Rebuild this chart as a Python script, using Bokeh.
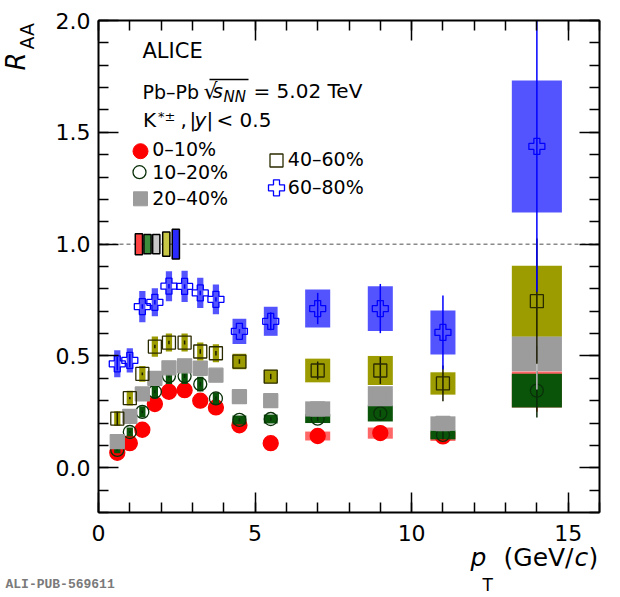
import numpy as np

from bokeh.plotting import figure
from bokeh.models import (ColumnDataSource, LinearAxis, Range1d, SingleIntervalTicker,
                          Label, NumeralTickFormatter, CustomJSTickFormatter)
from bokeh.embed import file_html
from bokeh.resources import INLINE

# K*(892)+- RAA vs pT, Pb-Pb 5.02 TeV
pt = [0.6, 1.0, 1.4, 1.8, 2.25, 2.75, 3.25, 3.75, 4.5, 5.5, 7.0, 9.0, 11.0, 14.0]
bin_halfwidth = [0.1, 0.1, 0.1, 0.1, 0.1, 0.1, 0.1, 0.1, 0.22, 0.22, 0.4, 0.4, 0.4, 0.8]

raa_0_10 = [0.067, 0.11, 0.17, 0.285, 0.34, 0.347, 0.30, 0.27, 0.19, 0.11, 0.142, 0.155, 0.14, 0.35]
stat_0_10 = [0.003, 0.004, 0.005, 0.006, 0.007, 0.008, 0.008, 0.008, 0.006, 0.005, 0.006, 0.008, 0.012, 0.10]
sys_0_10 = [0.01, 0.012, 0.015, 0.02, 0.022, 0.022, 0.02, 0.018, 0.014, 0.01, 0.02, 0.025, 0.02, 0.08]

raa_10_20 = [0.08, 0.16, 0.25, 0.34, 0.41, 0.41, 0.374, 0.31, 0.214, 0.218, 0.22, 0.243, 0.147, 0.345]
stat_10_20 = [0.004, 0.005, 0.006, 0.007, 0.008, 0.009, 0.009, 0.009, 0.007, 0.007, 0.01, 0.015, 0.02, 0.12]
sys_10_20 = [0.015, 0.02, 0.025, 0.03, 0.035, 0.035, 0.033, 0.028, 0.02, 0.02, 0.02, 0.036, 0.02, 0.075]

raa_20_40 = [0.117, 0.23, 0.33, 0.40, 0.447, 0.456, 0.445, 0.414, 0.318, 0.30, 0.263, 0.32, 0.198, 0.51]
stat_20_40 = [0.004, 0.005, 0.006, 0.007, 0.008, 0.009, 0.009, 0.009, 0.008, 0.008, 0.01, 0.015, 0.025, 0.16]
sys_20_40 = [0.01, 0.015, 0.02, 0.025, 0.025, 0.025, 0.025, 0.025, 0.02, 0.02, 0.034, 0.045, 0.032, 0.078]

raa_40_60 = [0.22, 0.311, 0.42, 0.542, 0.56, 0.56, 0.52, 0.512, 0.475, 0.408, 0.435, 0.435, 0.377, 0.745]
stat_40_60 = [0.03, 0.005, 0.006, 0.008, 0.008, 0.009, 0.01, 0.01, 0.01, 0.012, 0.04, 0.06, 0.08, 0.28]
sys_40_60 = [0.033, 0.033, 0.035, 0.045, 0.04, 0.04, 0.04, 0.04, 0.035, 0.03, 0.053, 0.065, 0.05, 0.158]

raa_60_80 = [0.465, 0.48, 0.721, 0.74, 0.812, 0.811, 0.782, 0.753, 0.61, 0.655, 0.712, 0.712, 0.605, 1.437]
stat_60_80 = [0.03, 0.03, 0.01, 0.01, 0.01, 0.01, 0.01, 0.01, 0.01, 0.04, 0.07, 0.11, 0.165, 0.65]
sys_60_80 = [0.06, 0.054, 0.07, 0.063, 0.067, 0.07, 0.068, 0.067, 0.056, 0.065, 0.085, 0.10, 0.098, 0.295]

# normalisation uncertainties drawn at RAA = 1
norm_unc = [0.047, 0.043, 0.043, 0.054, 0.067]
norm_x = [1.29, 1.565, 1.845, 2.165, 2.47]
norm_colors = ["#ff4444", "#3c8c3c", "#c8c8c8", "#c8c846", "#2a2aff"]

FONT = "DejaVu Sans"

# canvas and inner frame box in page pixels; the axes are drawn at fixed locations
W, H = 618, 595
FL, FR, FT, FB = 98, 599, 20, 512
X0, X1, Y0, Y1 = 0.0, 16.0, -0.2, 2.0
SX = (FR - FL) / (X1 - X0)
SY = (FB - FT) / (Y1 - Y0)


def to_data(px, py):
    return X0 + (px - FL) / SX, Y1 - (py - FT) / SY


p = figure(width=W, height=H, min_border=0,
           x_range=Range1d(X0 - FL / SX, X1 + (W - FR) / SX),
           y_range=Range1d(Y0 - (H - FB) / SY, Y1 + FT / SY),
           x_axis_type=None, y_axis_type=None,
           output_backend="svg", toolbar_location=None)
p.outline_line_color = None
p.background_fill_color = "white"
p.border_fill_color = "white"

xt = SingleIntervalTicker(interval=5, num_minor_ticks=5)
yt = SingleIntervalTicker(interval=0.5, num_minor_ticks=5)
blank = CustomJSTickFormatter(code="return ''")


def make_axis(ticker, loc, bounds, formatter=None):
    ax = LinearAxis(ticker=ticker, fixed_location=loc, bounds=bounds)
    if formatter is not None:
        ax.formatter = formatter
    ax.axis_line_width = 2
    ax.major_tick_in = 20
    ax.major_tick_out = 0
    ax.minor_tick_in = 10
    ax.minor_tick_out = 0
    ax.major_tick_line_width = 1.5
    ax.minor_tick_line_width = 1.5
    ax.major_label_text_font = FONT
    ax.major_label_text_font_size = "22px"
    ax.major_label_text_color = "black"
    return ax


bx = make_axis(xt, Y0, (X0, X1))
bx.major_label_standoff = 12
p.add_layout(bx, "below")

ly = make_axis(yt, X0, (Y0, Y1), NumeralTickFormatter(format="0.0"))
ly.major_label_standoff = 8
p.add_layout(ly, "left")

tx = make_axis(xt, Y1, (X0, X1), blank)
tx.major_label_standoff = 0
p.add_layout(tx, "above")

ry = make_axis(yt, X1, (Y0, Y1), blank)
ry.major_label_standoff = 0
p.add_layout(ry, "right")

# dashed reference line at RAA = 1
p.line([X0, X1], [1.0, 1.0], line_color="#8a8a8a", line_dash="4 3", line_width=1.5)

p.quad(left=np.array(norm_x) - 0.115, right=np.array(norm_x) + 0.115,
       bottom=1 - np.array(norm_unc), top=1 + np.array(norm_unc),
       fill_color=norm_colors, line_color="black", line_width=1.5)


def add_series(vals, stat, sys, box_color, box_alpha, err_color,
               marker, size, fill_color, line_color):
    x = np.array(pt)
    hw = np.array(bin_halfwidth)
    v = np.array(vals)
    st = np.array(stat)
    sy = np.array(sys)
    src = ColumnDataSource(dict(x=x, y=v, left=x - hw, right=x + hw,
                                bottom=v - sy, top=np.minimum(v + sy, Y1),
                                y0=v - st, y1=np.minimum(v + st, Y1)))
    p.quad(left="left", right="right", bottom="bottom", top="top", source=src,
           fill_color=box_color, fill_alpha=box_alpha, line_color=None)
    p.segment(x0="x", y0="y0", x1="x", y1="y1", source=src,
              line_color=err_color, line_width=1.5)
    p.scatter("x", "y", source=src, marker=marker, size=size,
              fill_color=fill_color, line_color=line_color, line_width=1.3)


add_series(raa_0_10, stat_0_10, sys_0_10, "#ff0000", 0.6, "#ff0000",
           "circle", 15, "#ff0000", "#ff0000")
add_series(raa_10_20, stat_10_20, sys_10_20, "#0a540a", 1.0, "#0a2a0a",
           "circle", 13, None, "#0a300a")
add_series(raa_20_40, stat_20_40, sys_20_40, "#9c9c9c", 1.0, "#c0c0c0",
           "square", 14, "#9c9c9c", "#9c9c9c")
add_series(raa_40_60, stat_40_60, sys_40_60, "#9c9c00", 1.0, "#1a1a00",
           "square", 13, None, "#2a2a00")
add_series(raa_60_80, stat_60_80, sys_60_80, "#0000ff", 0.67, "#0000ff",
           "plus", 16, None, "#0000ff")

# legend: marker positions in page pixels
leg_px = [(140, 150.7), (139, 171.7), (140, 198.3), (276, 160), (276, 187.3)]
leg_text = ["0\u201310%", "10\u201320%", "20\u201340%", "40\u201360%", "60\u201380%"]
leg_style = [
    dict(marker="circle", size=15, fill_color="#ff0000", line_color="#ff0000"),
    dict(marker="circle", size=13, fill_color=None, line_color="#0a300a", line_width=1.3),
    dict(marker="square", size=14, fill_color="#9c9c9c", line_color="#9c9c9c"),
    dict(marker="square", size=13, fill_color=None, line_color="#2a2a00", line_width=1.3),
    dict(marker="plus", size=16, fill_color=None, line_color="#0000ff", line_width=1.3),
]
for (lx, lyy), st in zip(leg_px, leg_style):
    dx, dy = to_data(lx, lyy)
    p.scatter([dx], [dy], **st)


def lab(text, px, py, size, style="normal", font=FONT, color="black"):
    # px: left edge, py: baseline, both in page pixels
    p.add_layout(Label(x=px, y=H - (py - 0.35 * size), x_units="screen", y_units="screen",
                       text=text, text_font=font, text_font_size=f"{size}px",
                       text_font_style=style, text_color=color,
                       text_align="left", text_baseline="middle"))


def vlab(text, px, py, size, style="normal"):
    # rotated text reading upwards; px: baseline, py: start (bottom end)
    p.add_layout(Label(x=px - 0.35 * size, y=H - py, x_units="screen", y_units="screen",
                       text=text, text_font=FONT, text_font_size=f"{size}px",
                       text_font_style=style, text_color="black", angle=np.pi / 2,
                       text_align="left", text_baseline="middle"))


for t, (tx_, ty_) in zip(leg_text, [(151.7, 155), (151.7, 177.8), (151.7, 204),
                                   (287.3, 165.5), (287.3, 193.3)]):
    lab(t, tx_, ty_, 19)

lab("ALICE", 142, 58.3, 21)
lab("Pb\u2013Pb", 142, 97.7, 19)
lab("\u221a", 203, 99, 22)
lab("s", 212, 97.7, 20, "italic")
lab("NN", 223, 101.5, 15, "italic")
lab("= 5.02 TeV", 253, 97.7, 20)
ox0, oy = to_data(209, 79)
ox1, _ = to_data(248, 79)
p.segment(x0=[ox0], y0=[oy], x1=[ox1], y1=[oy], line_color="black", line_width=1.3)

lab("K", 142.5, 126, 20)
lab("*\u00b1", 157.5, 121, 13)
lab(",", 180, 126, 20)
lab("|", 189, 126, 20)
lab("y", 194, 126, 20, "italic")
lab("|", 206, 126, 20)
lab("< 0.5", 216, 126, 20)

# axis titles
lab("p", 470, 566, 25, "italic")
lab("T", 482, 590, 17)
lab("(GeV/", 503, 566, 25)
lab("c", 574, 566, 25, "italic")
lab(")", 588, 566, 25)

vlab("R", 25, 70, 26, "italic")
vlab("AA", 33, 49, 19)

lab("ALI-PUB-569611", 5, 589, 13, "bold", font="Liberation Mono", color="#7a7a7a")

open("out.html", "w").write(file_html(p, INLINE))
